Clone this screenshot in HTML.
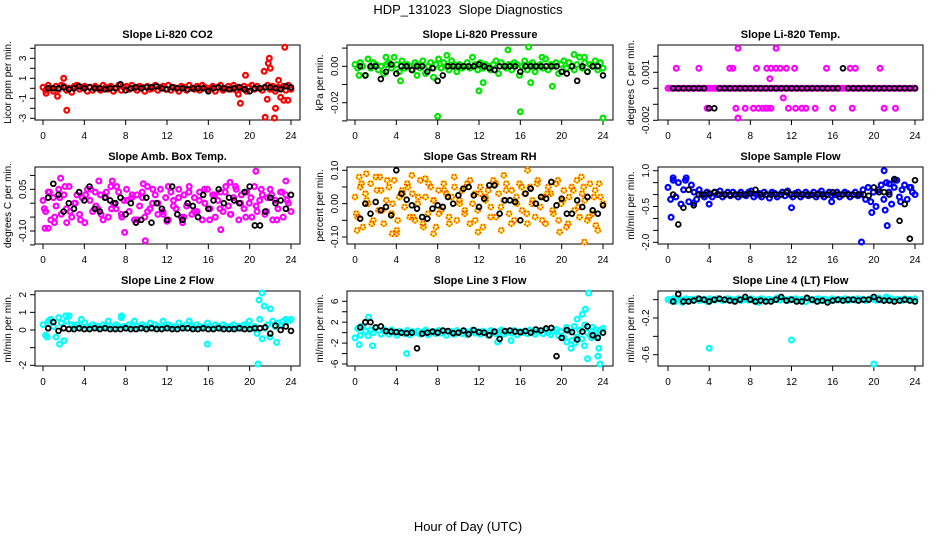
<!DOCTYPE html>
<html><head><meta charset="utf-8"><title>HDP_131023 Slope Diagnostics</title>
<style>
html,body{margin:0;padding:0;background:#fff;}
svg{display:block;font-family:"Liberation Sans",sans-serif;}
</style></head>
<body>
<svg id="chart" width="936" height="540" viewBox="0 0 936 540" xmlns="http://www.w3.org/2000/svg">
<text x="468" y="14" font-size="13" text-anchor="middle">HDP_131023&#160; Slope Diagnostics</text>
<text x="468" y="531" font-size="13" text-anchor="middle">Hour of Day (UTC)</text>
</svg>
<script>
const hourTicks = [0,4,8,12,16,20,24];

const co2Band = [0.1,-0.2,0.3,0,-0.3,0.2,-0.1,0.3,0.2,-0.2,0,-0.4,0.2,0.3,-0.1,0.1,0.2,-0.3,0.1,-0.2,0.2,0,-0.2,0.3,0.1,-0.1,0.2,-0.3,0,0.3,-0.2,0.1,0.2,-0.1,0.3,0,-0.2,0.2,0.1,-0.3,0.2,-0.1,0,0.3,-0.2,0.1,0.2,-0.1,0.3,-0.2,0.1,0,-0.3,0.2,0.1,-0.2,0.3,0,-0.1,0.2,-0.2,0.3,0.1,-0.1,0,0.2,-0.3,0.1,0.3,-0.2,0,0.2,-0.1,0.3,-0.2,0.1,0,0.2,-0.3,0.1,0.3,-0.1,0.2,0,-0.2,0.1,0.3,-0.1,0.2,-0.3,0.1,0,0.2,-0.2,0.3,-0.1];
const co2OutX = [2.0,2.3,1.4,19.1,19.6,21.4,21.5,21.7,21.8,21.9,22.0,22.4,22.5,22.8,23.0,23.3,23.4,23.7,0.3,18.9];
const co2OutY = [1.0,-2.2,-0.8,-1.5,1.3,1.7,-2.9,-1.1,2.5,3.0,2.0,-3.0,-2.0,0.8,-0.9,-1.2,4.1,-1.2,-0.5,-0.6];
const co2Black = [0,0,0,0.1,-0.1,0,0.2,0,0.1,0,0,-0.1,0,0,0.4,-0.2,0,0.1,0,0.1,0.1,0.2,0,-0.1,0.1,0,0,-0.1,0,0,0,-0.3,0,0.1,0,-0.1,0,0.1,-0.1,-0.3,0,0,0.1,0.1,0,-0.1,0.2,0.1];

const presBand = [0.001,-0.001,0.002,0,-0.005,0.004,-0.001,0.002,0.001,-0.002,0,-0.004,0.001,0.002,-0.001,0.005,0.001,-0.003,0.003,-0.001,0.001,0,-0.002,0.002,0.001,-0.001,0.003,-0.004,0,0.002,-0.001,0.001,0.004,-0.001,0.002,0,-0.002,0.003,0.001,-0.003,0.001,-0.001,0,0.002,-0.001,0.005,0.001,-0.002,0.002,-0.001,0.001,0,-0.002,0.001,0.003,-0.004,0.002,0,-0.001,0.001,-0.002,0.002,0.001,-0.005,0,0.003,-0.002,0.001,0.002,-0.003,0,0.001,-0.001,0.004,-0.002,0.001,0,0.002,-0.004,0.001,0.003,-0.001,0.002,0,-0.002,0.001,0.005,-0.001,0.002,-0.003,0.001,0,0.003,-0.002,0.002,-0.001];
const presOutX = [3,8,8.9,12,12.4,14.8,16,16.8,17,19.1,21.2,24,0.4,4.4,6,7.6,18.1,22.2];
const presOutY = [0.005,-0.0275,0.006,-0.0135,-0.009,0.009,-0.025,0.011,-0.009,-0.011,0.0065,-0.0285,-0.005,-0.008,-0.005,-0.006,0.005,0.005];
const presBlack = [0,-0.005,0,0,-0.007,-0.003,0.001,-0.004,0,0,-0.002,0,0,-0.003,-0.001,-0.008,-0.005,0,0,0,0,0,0,0.001,0,-0.001,-0.002,0,0,0,0,-0.003,0,0,0,0,0,0,0,-0.003,-0.004,0,-0.008,0,-0.003,0,0,-0.005];

const tempBand = [0,0,0,0,0,0,0,0,0,0,0,0,0,0,0,0,0,0,0,0,0,0,0,0,0,0,0,0,0,0,0,0,0,0,0,0,0,0,0,0,0,0,0,0,0,0,0,0,0,0,0,0,0,0,0,0,0,0,0,0,0,0,0,0,0,0,0,0,0,0,0,0,0,0,0,0,0,0,0,0,0,0,0,0,0,0,0,0,0,0,0,0,0,0,0,0];
const tempOutX = [0.8,3,6,6.3,8.6,9.6,10,10.5,10.9,11.5,12.3,15.4,17.7,18.2,20.6,6.8,10.5,9.9,11.2,3.8,6.6,7.5,8.3,8.8,9.2,9.5,9.7,10,11.7,12.4,13,13.4,14.3,16,17.9,21,22.1,6.8];
const tempOutY = [0.00125,0.00125,0.00125,0.00125,0.00125,0.00125,0.00125,0.00125,0.00125,0.00125,0.00125,0.00125,0.00125,0.00125,0.00125,0.0025,0.0025,0.0006,-0.0006,-0.00125,-0.00125,-0.00125,-0.00125,-0.00125,-0.00125,-0.00125,-0.00125,-0.00125,-0.00125,-0.00125,-0.00125,-0.00125,-0.00125,-0.00125,-0.00125,-0.00125,-0.00125,-0.0019];
const tempBlack = [0,0,0,0,0,0,0,-0.00125,-0.00125,0,0,0,0,0,0,0,0,0,0,0,0,0,0,0,0,0,0,0,0,0,0,0,0,0.00125,0,0,0,0,0,0,0,0,0,0,0,0,0,0];

const ambBand = [0.01,-0.03,0.04,-0.06,0.02,-0.01,0.05,-0.04,0.03,-0.02,0.06,-0.05,0.0,0.03,-0.04,0.02,-0.07,0.05,0.01,-0.03,0.04,-0.02,0.03,-0.06,0.02,-0.05,0.06,0.0,-0.02,0.04,-0.04,0.01,0.05,-0.03,0.02,-0.06,0.03,-0.01,0.04,-0.05,0.06,-0.02,0.0,0.03,-0.04,0.05,-0.03,0.02,-0.06,0.04,0.01,-0.02,0.05,-0.05,0.03,-0.01,0.06,-0.04,0.02,-0.03,0.04,-0.06,0.0,0.05,-0.02,0.03,-0.05,0.01,0.04,-0.03,0.06,-0.01,-0.04,0.02,0.05,-0.06,0.03,-0.02,0.04,0.0,-0.05,0.06,-0.03,0.01,0.03,-0.04,0.02,0.05,-0.06,0.01,-0.02,0.04,-0.05,0.03,0.0,-0.03];
const ambBand2 = [-0.02,0.04,-0.05,0.02,0.06,-0.03,0.0,-0.06,0.03,0.05,-0.01,-0.04,0.04,-0.02,0.06,-0.05,0.01,0.03,-0.06,0.02,-0.03,0.05,0.0,-0.04,0.06,-0.01,0.02,-0.05,0.04,-0.03,0.01,0.05,-0.06,0.03,-0.02,0.04,-0.04,0.06,0.0,-0.05,0.02,-0.01,0.05,-0.03,0.03,-0.06,0.04,0.01];
const ambOutX = [0.2,0.5,1.7,1.1,6.7,9.9,7.9,20.6,17.2,23.5,12,2.3,13.5,5.4,9.7,18.1];
const ambOutY = [-0.09,-0.09,0.09,-0.07,0.08,-0.135,-0.105,0.115,-0.095,0.08,-0.065,-0.07,-0.07,0.08,0.07,0.075];
const ambBlack = [0.02,0.07,0.03,-0.03,0.0,-0.02,0.04,0.01,0.06,-0.02,-0.03,0.02,0.01,0.0,0.02,-0.04,0.0,-0.07,-0.06,0.02,-0.07,0.0,-0.02,-0.06,0.06,-0.04,-0.06,0.0,-0.01,-0.05,0.03,-0.02,0.01,0.05,0.0,0.02,0.01,0.0,0.04,0.06,-0.08,-0.08,-0.03,0.02,0.0,0.01,-0.02,0.03];

const rhBand = [0.02,-0.04,0.05,-0.07,0.03,0.0,0.06,-0.05,0.08,-0.02,0.04,-0.06,0.01,0.05,-0.03,0.07,-0.08,0.02,0.04,-0.01,0.06,-0.04,0.03,-0.05,0.0,0.07,-0.06,0.02,-0.03,0.05,0.01,-0.07,0.04,-0.02,0.06,0.03,-0.04,0.02,0.08,-0.05,0.01,0.04,-0.03,0.06,-0.06,0.0,0.03,-0.02,0.05,-0.07,0.02,0.04,-0.01,0.07,-0.04,0.03,-0.08,0.01,0.06,-0.03,0.04,-0.05,0.0,0.06,-0.02,0.03,-0.06,0.05,0.01,-0.04,0.07,-0.01,0.02,-0.06,0.05,0.03,-0.03,0.06,-0.05,0.0,0.04,-0.07,0.02,0.05,-0.02,0.07,-0.04,0.03,0.01,-0.05,0.06,-0.03,0.04,-0.08,0.02,0.0];
const rhBand2 = [-0.03,0.06,0.01,-0.06,0.04,-0.02,0.07,0.0,-0.05,0.03,0.05,-0.04,0.02,-0.07,0.06,0.01,-0.03,0.04,-0.06,0.05,0.0,-0.02,0.07,-0.05,0.03,0.01,-0.04,0.06,-0.01,0.04,-0.06,0.02,0.05,-0.03,0.0,0.06,-0.05,0.03,-0.02,0.07,0.01,-0.06,0.04,-0.01,0.05,-0.04,0.02,0.06];
const rhOutX = [0.2,0.4,1.1,2.4,3.6,4,5.5,7.6,11.9,14.4,16.7,19.8,21.9,22.2,23.3,6.8];
const rhOutY = [-0.08,0.08,0.09,0.08,-0.09,-0.09,0.085,-0.09,-0.085,0.085,0.1,-0.085,0.08,-0.115,-0.065,0.075];
const rhBlack = [-0.045,0.0,-0.03,0.005,-0.02,-0.01,-0.035,0.1,0.03,0.012,-0.005,-0.015,-0.04,-0.045,-0.015,-0.005,-0.01,0.02,0.0,0.025,0.045,0.05,0.025,-0.01,0.015,0.055,0.055,-0.03,0.01,0.01,0.005,-0.05,0.03,0.045,0.0,0.02,0.015,0.065,-0.005,0.015,-0.03,-0.03,0.01,-0.01,0.02,-0.02,-0.03,-0.005];

const sfBand = [0.3,-0.2,0.6,-0.1,0.5,-0.4,0.2,0.7,-0.3,0.4,0.1,-0.2,0.2,0.0,-0.1,0.1,0.0,-0.1,0.1,0.0,0.15,-0.1,0.0,0.1,-0.05,0.1,0.0,-0.1,0.1,0.0,-0.05,0.1,0.15,-0.1,0.0,0.05,-0.1,0.1,0.0,-0.15,0.1,0.05,-0.1,0.0,0.1,-0.05,0.15,0.0,-0.1,0.05,0.1,-0.1,0.0,0.1,-0.05,0.0,0.1,-0.1,0.05,0.15,-0.1,0.0,0.1,-0.05,0.0,0.1,-0.1,0.0,0.1,0.05,-0.1,0.0,0.1,-0.05,0.0,0.2,-0.2,0.3,-0.3,0.1,-0.5,0.2,0.4,-0.2,0.5,0.1,-0.4,0.3,0.6,-0.1,0.2,0.4,-0.2,0.3,0.1,0.0];
const sfOutX = [0.3,18.8,21.0,21.3,22.0,21.1,4.0,1.7,0.5,19.8,21.5,22.6,23.6,15.9,12.0,2.5];
const sfOutY = [-0.95,-2.0,1.0,-1.3,0.6,-0.65,-0.4,0.6,0.7,-0.75,0.45,-0.3,0.3,-0.3,-0.55,-0.35];
const sfBlack = [0.0,-1.25,-0.55,0.2,-0.45,0.0,0.0,0.05,0.1,0.0,0.0,0.0,0.0,0.0,0.0,0.05,0.2,0.0,0.0,0.0,0.0,0.0,0.1,0.0,0.0,0.0,0.0,0.0,0.0,0.0,0.0,0.1,0.0,0.0,0.0,0.0,0.0,0.0,-0.05,0.3,0.1,0.1,0.0,0.65,-1.1,-0.4,-1.85,0.6];

const l2Band = [0.3,-0.3,0.5,0.6,0.2,-0.4,0.7,0.4,-0.6,0.5,0.8,0.3,0.2,0.3,0.1,0.2,0.4,0.2,0.1,0.3,0.2,0.2,0.1,0.3,0.2,0.5,0.2,0.1,0.3,0.2,0.7,0.2,0.1,0.3,0.2,0.5,0.2,0.1,0.3,0.2,0.2,0.4,0.1,0.3,0.2,0.1,0.5,0.2,0.3,0.2,0.1,0.2,0.4,0.2,0.1,0.3,0.5,0.2,0.1,0.3,0.2,0.1,0.2,0.4,0.2,0.1,0.3,0.2,0.1,0.3,0.2,0.1,0.2,0.3,0.1,0.2,0.1,0.3,0.2,0.5,0.1,0.2,-0.2,0.6,-0.5,0.1,0.3,-0.4,0.5,0.2,0.4,0.3,0.5,0.6,0.5,0.6];
const l2OutX = [20.9,21.2,21.4,22.0,20.8,15.9,22.6,1.6,0.4,7.6,3.7,2.2];
const l2OutY = [1.7,2.1,1.35,1.2,-2.0,-0.8,-0.7,-0.8,-0.4,0.8,0.6,0.8];
const l2Black = [0.1,0.45,-0.05,0.1,0.05,0.05,0.1,0.05,0.05,0.1,0.05,0.1,0.05,0.05,0.05,0.1,0.05,0.05,0.1,0.05,0.1,0.05,0.05,0.1,0.05,0.05,0.1,0.1,0.05,0.05,0.1,0.05,0.05,0.1,0.05,0.05,0.05,0.1,0.05,0.05,0.1,0.1,0.15,-0.2,0.25,0.0,0.2,-0.05];

const l3Band = [-1.0,0.8,-0.5,1.2,0.3,-0.6,0.5,0.0,1.0,0.4,-0.3,0.6,0.2,-0.3,0.5,0.1,-0.5,0.3,0.0,-0.2,0.4,-0.4,0.2,0.0,0.3,-0.3,0.1,0.5,-0.4,0.0,0.2,-0.2,0.4,-0.1,0.3,-0.5,0.1,0.2,-0.3,0.4,0.0,-0.2,0.3,-0.4,0.1,0.5,-0.1,0.2,-0.3,0.3,0.0,-0.5,0.4,0.1,-0.2,0.2,0.5,-0.3,0.0,0.3,-0.1,0.4,-0.4,0.2,0.0,0.3,-0.2,0.5,0.1,-0.3,0.2,0.4,-0.2,0.5,0.0,-0.4,0.3,0.6,-0.6,0.2,-1.0,1.0,0.3,-1.5,1.2,-0.8,0.5,-1.2,1.5,0.0,-0.5,1.0,0.6,-0.7,0.5,0.8];
const l3OutX = [1.3,1.7,0.4,0.6,5.0,21.5,22.0,22.2,22.5,22.3,22.6,23.5,23.6,23.7,20.5,20.9,21.3,22.9,15.1,13.8];
const l3OutY = [3.0,-2.5,-2.3,1.2,-4.0,2.6,3.5,-2.5,-5.0,4.5,7.6,-4.5,-3.0,-6.0,-1.8,-3.0,-2.0,-1.0,-1.5,-1.8];
const l3Black = [1.0,2.0,2.0,1.0,1.2,0.3,0.2,0.1,0.0,-0.1,0.0,-3.0,-0.2,0.0,0.2,0.0,0.4,0.3,-0.1,0.0,0.4,-0.3,0.5,0.1,0.0,-0.5,0.2,-1.2,0.3,0.4,0.2,0.1,0.3,0.0,0.6,0.4,0.8,0.9,-4.5,-1.0,0.5,0.1,-1.3,0.2,1.2,-0.5,-1.0,0.0];

const l4Band = [0.0,-0.01,0.01,-0.005,0.005,0.0,-0.01,0.01,0.0,0.005,-0.005,0.01,-0.01,0.0,0.005,-0.02,0.01,0.0,-0.005,0.01,0.005,-0.01,0.0,0.01,0.005,-0.005,0.0,0.01,-0.01,0.005,0.0,-0.005,0.01,0.0,-0.01,0.005,0.01,0.0,-0.005,0.005,-0.01,0.0,0.02,-0.005,0.01,0.0,-0.01,0.005,0.0,0.01,-0.005,0.0,0.005,-0.02,0.01,0.0,-0.005,0.005,0.01,-0.01,0.005,0.0,-0.01,0.01,0.0,-0.005,0.005,0.0,0.01,-0.01,0.0,0.005,-0.005,0.01,0.0,0.005,-0.01,0.0,0.01,0.005,-0.005,0.02,0.0,-0.01,0.005,0.0,0.01,-0.005,0.005,0.0,-0.01,0.01,0.0,0.005,-0.005,0.01];
const l4OutX = [4.0,12.0,20.0,21.2,1.4,0.7,8.8];
const l4OutY = [-0.53,-0.44,-0.71,0.03,-0.03,-0.02,-0.03];
const l4Black = [-0.02,0.06,-0.02,-0.02,-0.01,0.01,0.0,-0.02,0.0,0.01,0.0,-0.01,-0.02,0.0,0.03,0.0,-0.02,-0.01,-0.02,-0.02,0.0,0.03,-0.01,0.0,-0.02,-0.02,0.02,0.0,-0.02,-0.01,-0.03,-0.01,0.0,-0.01,0.0,0.0,-0.01,0.0,0.0,0.03,0.0,-0.01,-0.01,-0.02,-0.01,0.0,-0.01,-0.02];

const panels = [
 {name:'co2', title:'Slope Li-820 CO2', ylab:'Licor ppm per min.', col:'#ff0000', band:co2Band, band2:null, ox:co2OutX, oy:co2OutY, black:co2Black,
  yTicks:[-3,-2,-1,0,1,2,3,4], yLabels:['-3','-1','1','3'], yLabelVals:[-3,-1,1,3], g:{L:35,R:300,T:45,B:120,x0:43,x24:291,v1:3,p1:58.3,v2:-3,p2:118.3}},
 {name:'pressure', title:'Slope Li-820 Pressure', ylab:'kPa per min.', col:'#00e600', band:presBand, band2:null, ox:presOutX, oy:presOutY, black:presBlack,
  yTicks:[0.01,0,-0.01,-0.02,-0.03], yLabels:['0.00','-0.02'], yLabelVals:[0,-0.02], g:{L:347,R:613,T:45,B:120,x0:355,x24:603,v1:0,p1:66.3,v2:-0.02,p2:102.7}},
 {name:'temp', title:'Slope Li-820 Temp.', ylab:'degrees C per min.', col:'#ff00ff', band:tempBand, band2:null, ox:tempOutX, oy:tempOutY, black:tempBlack,
  yTicks:[0.002,0.001,0,-0.001,-0.002], yLabels:['0.001','-0.002'], yLabelVals:[0.001,-0.002], g:{L:658,R:923,T:45,B:120,x0:668,x24:915,v1:0.001,p1:72.3,v2:-0.002,p2:120.3}},
 {name:'amb-temp', title:'Slope Amb. Box Temp.', ylab:'degrees C per min.', col:'#ff00ff', band:ambBand, band2:ambBand2, ox:ambOutX, oy:ambOutY, black:ambBlack,
  yTicks:[0.1,0.05,0,-0.05,-0.1,-0.15], yLabels:['0.05','-0.10'], yLabelVals:[0.05,-0.1], g:{L:35,R:300,T:167,B:244,x0:43,x24:291,v1:0.05,p1:189.3,v2:-0.1,p2:231}},
 {name:'rh', title:'Slope Gas Stream RH', ylab:'percent per min.', col:'#ffc800', band:rhBand, band2:rhBand2, ox:rhOutX, oy:rhOutY, black:rhBlack,
  yTicks:[0.1,0.05,0,-0.05,-0.1], yLabels:['0.10','0.00','-0.10'], yLabelVals:[0.1,0,-0.1], g:{L:347,R:613,T:167,B:244,x0:355,x24:603,v1:0.1,p1:170.3,v2:-0.1,p2:237}},
 {name:'sample-flow', title:'Slope Sample Flow', ylab:'ml/min per min.', col:'#0000ff', band:sfBand, band2:null, ox:sfOutX, oy:sfOutY, black:sfBlack,
  yTicks:[1,0.5,0,-0.5,-1,-1.5,-2], yLabels:['1.0','-0.5','-2.0'], yLabelVals:[1,-0.5,-2], g:{L:658,R:923,T:167,B:244,x0:668,x24:915,v1:1,p1:170.7,v2:-2,p2:242.3}},
 {name:'line2-flow', title:'Slope Line 2 Flow', ylab:'ml/min per min.', col:'#00ffff', band:l2Band, band2:null, ox:l2OutX, oy:l2OutY, black:l2Black,
  yTicks:[2,1,0,-1,-2], yLabels:['2','1','0','-2'], yLabelVals:[2,1,0,-2], g:{L:35,R:300,T:291,B:366,x0:43,x24:291,v1:2,p1:294.7,v2:-2,p2:365.3}},
 {name:'line3-flow', title:'Slope Line 3 Flow', ylab:'ml/min per min.', col:'#00ffff', band:l3Band, band2:null, ox:l3OutX, oy:l3OutY, black:l3Black,
  yTicks:[6,4,2,0,-2,-4,-6], yLabels:['6','2','-2','-6'], yLabelVals:[6,2,-2,-6], g:{L:347,R:613,T:291,B:366,x0:355,x24:603,v1:6,p1:301.3,v2:-6,p2:364}},
 {name:'line4-flow', title:'Slope Line 4 (LT) Flow', ylab:'ml/min per min.', col:'#00ffff', band:l4Band, band2:null, ox:l4OutX, oy:l4OutY, black:l4Black,
  yTicks:[0,-0.2,-0.4,-0.6], yLabels:['-0.2','-0.6'], yLabelVals:[-0.2,-0.6], g:{L:658,R:923,T:291,B:366,x0:668,x24:915,v1:-0.2,p1:318,v2:-0.6,p2:354.7}}
];

const NS = 'http://www.w3.org/2000/svg';
const svg = document.getElementById('chart');
function mk(tag, attrs, parent){
  const e = document.createElementNS(NS, tag);
  for (const k in attrs) e.setAttribute(k, attrs[k]);
  parent.appendChild(e);
  return e;
}

panels.forEach(p => {
  const g = p.g;
  const xs = h => g.x0 + (g.x24 - g.x0) * h / 24;
  const ys = v => g.p1 + (v - g.v1) * (g.p2 - g.p1) / (g.v2 - g.v1);
  const grp = mk('g', {}, svg);
  
  

  const title = mk('text', {x:(g.L+g.R)/2, y:g.T-7, 'font-size':11, 'font-weight':'bold', 'text-anchor':'middle'}, grp);
  title.textContent = p.title;
  
  

  const yl = mk('text', {x:0, y:0, 'font-size':10, 'text-anchor':'middle', transform:`translate(${g.L-24},${(g.T+g.B)/2}) rotate(-90)`}, grp);
  yl.textContent = p.ylab;
  
  

  const box = mk('rect', {x:g.L, y:g.T, width:g.R-g.L, height:g.B-g.T, fill:'none', stroke:'#000', 'stroke-width':1}, grp);
  
  

  const xa = mk('g', {}, grp);
  
  
  hourTicks.forEach(h => {
    mk('line', {x1:xs(h), x2:xs(h), y1:g.B, y2:g.B+5, stroke:'#000'}, xa);
    const t = mk('text', {x:xs(h), y:g.B+19, 'font-size':10, 'text-anchor':'middle'}, xa);
    t.textContent = h;
    
    
  });
  const ya = mk('g', {}, grp);
  
  
  p.yTicks.forEach(v => {
    const y = ys(v);
    if (y >= g.T - 1 && y <= g.B + 1) mk('line', {x1:g.L-5, x2:g.L, y1:y, y2:y, stroke:'#000'}, ya);
  });
  p.yLabelVals.forEach((v, i) => {
    const t = mk('text', {x:0, y:0, 'font-size':10, 'text-anchor':'middle', transform:`translate(${g.L-9},${ys(v)}) rotate(-90)`}, ya);
    t.textContent = p.yLabels[i];
    
    
  });

  const pts = mk('g', {fill:'none'}, grp);
  
  
  const clamp = y => Math.max(g.T + 2, Math.min(g.B - 2, y));
  const dot = (h, v, col, parent) => {
    const c = mk('circle', {cx:xs(h), cy:clamp(ys(v)), r:2.4, stroke:col, 'stroke-width':2.2, fill:'none'}, parent);
    
    
  };
  const nb = p.band.length;
  p.band.forEach((v, i) => dot(i * 24 / (nb - 1), v, p.col, pts));
  if (p.band2) p.band2.forEach((v, i) => dot(0.125 + i * 0.5, v, p.col, pts));
  p.ox.forEach((h, i) => dot(h, p.oy[i], p.col, pts));
  if (p.name === 'rh') {
    pts.querySelectorAll('circle').forEach(c => {
      const r = mk('circle', {cx:c.getAttribute('cx'), cy:c.getAttribute('cy'), r:2.4, stroke:'#ff2000', 'stroke-width':1.6, fill:'none', 'stroke-dasharray':'1 2'}, pts);
      
      
    });
  }

  const bk = mk('g', {}, grp);
  
  
  p.black.forEach((v, i) => {
    const c = mk('circle', {cx:xs(0.5 * (i + 1)), cy:clamp(ys(v)), r:2.4, stroke:'#000', 'stroke-width':1.8, fill:'none'}, bk);
    
    
  });
});
</script>
</body></html>
